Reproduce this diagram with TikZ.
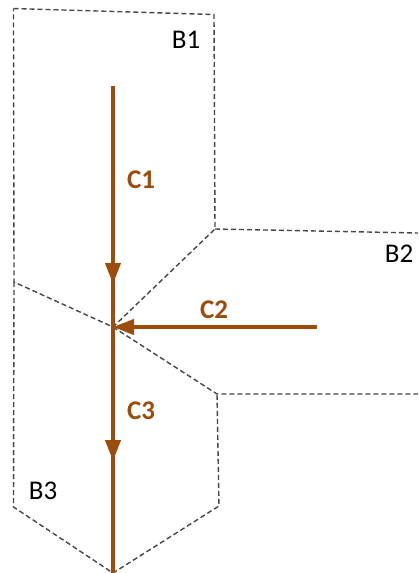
\documentclass[tikz,border=0pt]{standalone}
\usepackage{fontspec}
\setmainfont{Carlito}
\usetikzlibrary{arrows.meta}
\definecolor{flow}{RGB}{156,76,11}
\definecolor{bnd}{RGB}{70,70,70}
\tikzset{
  boundary/.style={draw=bnd, line width=1.4pt, dash pattern=on 5pt off 3pt},
  flowline/.style={draw=flow, line width=4pt},
  flowarrow/.style={flowline, -{Triangle[length=21pt,width=15pt]}},
  blabel/.style={font=\fontsize{27}{27}\selectfont, text=black, inner sep=0pt},
  clabel/.style={font=\fontsize{27}{27}\selectfont\bfseries, text=flow, inner sep=0pt}
}
\begin{document}
\begin{tikzpicture}[x=1pt,y=-1pt]
\useasboundingbox (0,0) rectangle (418,573);
% boundary corners
\coordinate (tl) at (13.5,8.5);
\coordinate (tr) at (214,14.5);
\coordinate (m1) at (215,229);
\coordinate (r1) at (418,233);
\coordinate (j) at (113,327);
\coordinate (l1) at (14,282);
\coordinate (m2) at (217,394);
\coordinate (r2) at (418,394);
\coordinate (l2) at (13.5,507);
\coordinate (bv) at (113,573);
\coordinate (m3) at (219,506);
% B1
\draw[boundary] (tl) -- (tr) -- (m1) -- (j) -- (l1) -- cycle;
% B2
\draw[boundary] (m1) -- (r1);
\draw[boundary] (j) -- (m2) -- (r2);
% B3
\draw[boundary] (l1) -- (l2) -- (bv) -- (m3) -- (m2);
% flow lines
\coordinate (c1s) at (113,86);
\coordinate (c1t) at (113,284);
\coordinate (c2s) at (317,327);
\coordinate (c3t) at (113,461);
\coordinate (bot) at (113,573);
\draw[flowline] (c1s) -- (bot);
\draw[flowarrow] (c1s) -- (c1t);
\draw[flowarrow] (c2s) -- (j);
\draw[flowarrow] (j) -- (c3t);
% labels
\node[blabel] (B1) at (186,40) {B1};
\node[blabel] (B2) at (399,254) {B2};
\node[blabel] (B3) at (43,491) {B3};
\node[clabel] (C1) at (141,180) {C1};
\node[clabel] (C2) at (214,310) {C2};
\node[clabel] (C3) at (141,411) {C3};
\end{tikzpicture}
\end{document}
